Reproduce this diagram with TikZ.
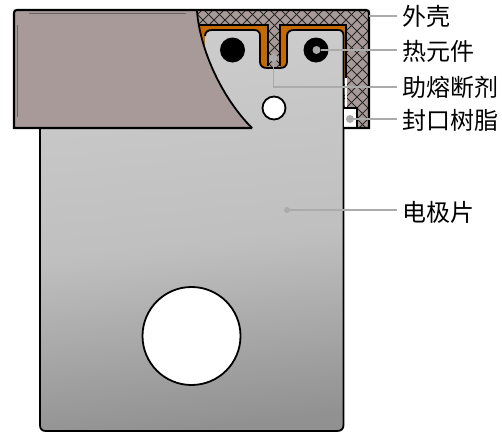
\documentclass[tikz,border=0pt]{standalone}
\usepackage{fontspec}
\newfontfamily\cjk{Noto Sans CJK SC}
\definecolor{shellc}{HTML}{A79A98}
\definecolor{flux}{HTML}{C46A00}
\definecolor{leader}{HTML}{ABABAB}
\pgfdeclareverticalshading{elecshade}{100bp}{color(0bp)=(black!43); color(25bp)=(black!43); color(48bp)=(black!25); color(75bp)=(black!20); color(100bp)=(black!20)}
\tikzset{
  lbl/.style={anchor=west,inner sep=0pt,font=\cjk\fontsize{24}{25}\selectfont,text=black},
  lead/.style={draw=leader,line width=1.8pt},
  ldot/.style={circle,fill=leader,inner sep=0pt,minimum size=8pt},
  hole/.style={circle,draw=black,fill=white,line width=1.8pt,inner sep=0pt},
  pin/.style={circle,fill=black,inner sep=0pt,minimum size=25pt},
  blk/.style={draw=black,line width=1.8pt}
}
\newcommand{\elecpath}{(40,128) -- (40,425) .. controls (40,429) and (42,431) .. (46,431) -- (337,431)
  .. controls (341,431) and (343.5,429) .. (343.5,425) -- (343.5,36) .. controls (343.5,32) and (342,30) .. (338,30) -- (294,30) .. controls (290,30) and (287,32) .. (287,36) -- (287,62)
  .. controls (287,66) and (284,68) .. (280,68) -- (267,68) .. controls (263,68) and (260,66) .. (260,62) -- (260,36) .. controls (260,32) and (258,30) .. (254,30) -- (212,30) .. controls (208,30) and (205,32) .. (205,36)}
\begin{document}
\begin{tikzpicture}[x=1pt,y=-1pt]
\useasboundingbox (0,0) rectangle (502,434);
% shell
\fill[shellc] (14,10) rectangle (369,128);
\begin{scope}
  \clip (197,10) rectangle (369,128);
  \foreach \k in {0,11,...,330}{
    \draw[black!85,line width=0.8pt] (190+\k,0) -- (50+\k,140);
    \draw[black!85,line width=0.8pt] (40+\k,0) -- (180+\k,140);
  }
\end{scope}
% flux
\fill[flux] (197,25) -- (268,25) -- (268,68) -- (280,68) -- (280,25) -- (346,25) -- (346,78) -- (340,78) -- (340,128) -- (197,128) -- cycle;
\draw[blk] (197,25) -- (268,25) -- (268,66);
\draw[blk] (280,66) -- (280,25) -- (346,25) -- (346,78);
% electrode
\shade[shading=elecshade,shading angle=6] \elecpath -- (205,128) -- cycle;
\draw[blk] \elecpath;
% seal
\fill[white] (345,78) rectangle (346.5,108);
\draw[blk,fill=white] (344,108) -- (357,108) -- (357,128) -- (344,128);
% left part of shell
\fill[shellc] (14,10) -- (197,10) .. controls (200,50) and (222,98) .. (252,128) -- (14,128) -- cycle;
\draw[black!60,line width=0.6pt] (29,13) -- (186,13);
\draw[black!60,line width=0.6pt] (17,25) -- (17,117);
\draw[blk] (197,11) .. controls (200,50) and (222,98) .. (252,128);
% shell outline
\draw[black,line width=2.2pt] (252,128) -- (14,128) -- (14,13) .. controls (14,11) and (15,10) .. (17,10) -- (366,10) .. controls (368,10) and (369,11) .. (369,13) -- (369,128) -- (344,128);
% holes
\node[hole,minimum size=98pt] (bighole) at (191.5,336) {};
\node[hole,minimum size=23pt] (smallhole) at (274,108) {};
\node[pin] (pinL) at (232.5,50) {};
\node[pin] (pinR) at (316,50) {};
% labels
\node[lbl] (lshell) at (402,16) {\cjk 外壳};
\node[lbl] (lheat) at (402,51) {\cjk 热元件};
\node[lbl] (lflux) at (402,87) {\cjk 助熔断剂};
\node[lbl] (lseal) at (402,120) {\cjk 封口树脂};
\node[lbl] (lelec) at (402,212) {\cjk 电极片};
% leaders
\coordinate (shellend) at (369,16);
\coordinate (eshell) at (397,16);
\coordinate (eheat) at (397,50);
\coordinate (eflux) at (397,87);
\coordinate (eseal) at (397,119);
\coordinate (eelec) at (397,210);
\node[ldot] (dheat) at (316.5,50) {};
\node[ldot] (dflux) at (273.5,58) {};
\node[ldot] (dseal) at (350,119) {};
\node[ldot,minimum size=6pt] (delec) at (287,210) {};
\draw[lead] (shellend) -- (eshell);
\draw[lead] (dheat) -- (eheat);
\draw[lead] (dflux) |- (eflux);
\draw[lead] (dseal) -- (eseal);
\draw[lead] (delec) -- (eelec);
\end{tikzpicture}
\end{document}
